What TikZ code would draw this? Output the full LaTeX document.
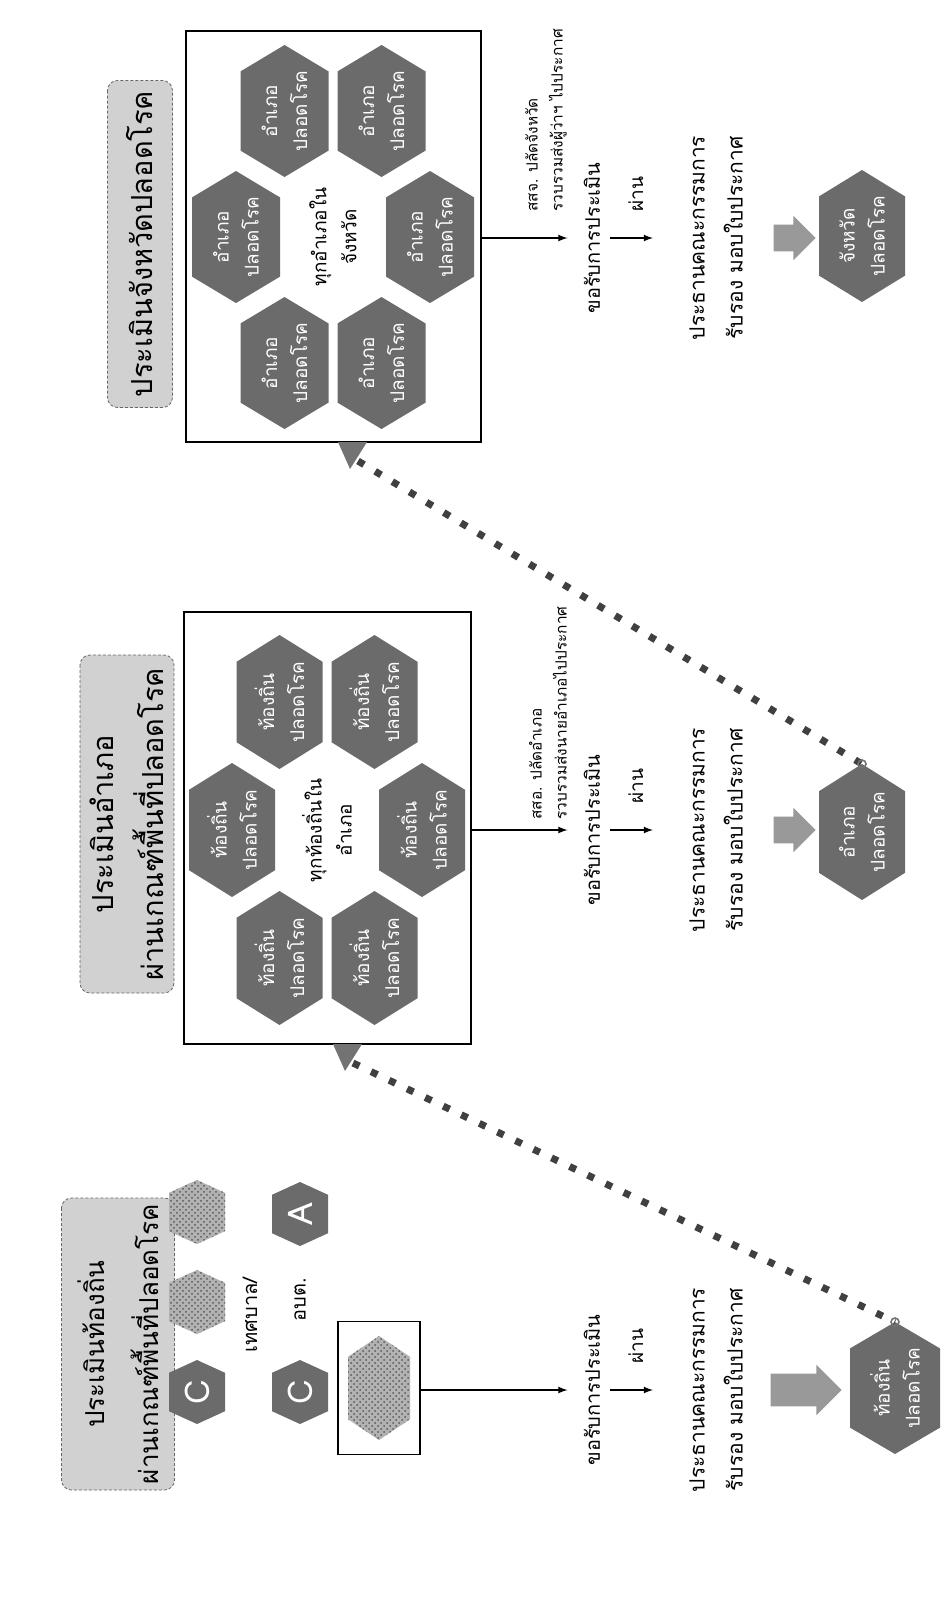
\documentclass[tikz,border=0pt]{standalone}
\usepackage{fontspec}
\setmainfont[Script=Thai]{Loma}
\usetikzlibrary{calc}
\usetikzlibrary{shapes.arrows}
\usetikzlibrary{patterns}

% หกเหลี่ยม: ชื่อ, จุดศูนย์กลาง, ครึ่งกว้าง, ครึ่งสูง, สี, ข้อความ
\newcommand{\hexcell}[6]{%
  \fill[#5] (#2) +(0,-#4) -- +(#3,-0.6*#4) -- +(#3,0.6*#4) -- +(0,#4) -- +(-#3,0.6*#4) -- +(-#3,-0.6*#4) -- cycle;
  \coordinate (#1-top) at ($(#2)+(0,-#4)$);
  \node[hextext] (#1) at (#2) {#6};
}

\begin{document}
\begin{tikzpicture}[x=0.5pt,y=-0.5pt,>=latex,
    hextext/.style={rotate=90,text=white,align=center,inner sep=0pt,font=\fontsize{9.5}{15}\selectfont},
    midtext/.style={rotate=90,align=center,inner sep=0pt,font=\fontsize{9.5}{15}\selectfont},
    darkhex/.style={fill=black!58},
    grainhex/.style={fill=black!30,postaction={pattern=crosshatch dots,pattern color=black!65}},
    titlebox/.style={rotate=90,draw=black!60,dash pattern=on 1.5pt off 1pt,rounded corners=5pt,fill=black!18,align=center,inner sep=0pt,font=\fontsize{14.5}{25}\selectfont},
    framebox/.style={draw,line width=0.9pt,inner sep=0pt},
    smalltext/.style={rotate=90,align=center,inner sep=0pt,font=\fontsize{10}{15}\selectfont},
    chairtext/.style={rotate=90,align=center,inner sep=0pt,font=\fontsize{10.5}{19}\selectfont},
    notetext/.style={rotate=90,align=left,inner sep=0pt,font=\fontsize{7.7}{12.5}\selectfont},
    passtext/.style={rotate=90,anchor=west,inner sep=13pt,font=\fontsize{9.5}{11}\selectfont},
    bigarrow/.style={single arrow,fill=black!40,inner sep=6.5pt,single arrow head extend=4.5pt,minimum width=22pt},
    flowline/.style={->,line width=0.6pt},
    dotline/.style={line width=3.5pt,dash pattern=on 3.5pt off 6.5pt,black!75}]
    \fill[white] (0,0) rectangle (947,1606);
    \useasboundingbox (0,0) rectangle (947,1606);

    % จังหวัด
    \node[titlebox,minimum width=163.5pt,minimum height=32.5pt] (provtitle) at (140,244) {ประเมินจังหวัดปลอดโรค};
    \node[framebox,minimum width=147.5pt,minimum height=205.5pt] (provbox) at (333.5,236.5) {};
    \hexcell{provA}{236,237}{44}{66}{darkhex}{อำเภอ\\ปลอดโรค}
    \hexcell{provB}{430,237}{44}{66}{darkhex}{อำเภอ\\ปลอดโรค}
    \hexcell{provC}{284.5,111}{44}{66}{darkhex}{อำเภอ\\ปลอดโรค}
    \hexcell{provD}{381.5,111}{44}{66}{darkhex}{อำเภอ\\ปลอดโรค}
    \hexcell{provE}{284.5,363}{44}{66}{darkhex}{อำเภอ\\ปลอดโรค}
    \hexcell{provF}{381.5,363}{44}{66}{darkhex}{อำเภอ\\ปลอดโรค}
    \node[midtext] (provmid) at (333,237) {ทุกอำเภอใน\\จังหวัด};
    \node[notetext,anchor=south west] (provnote) at (567,212) {สสจ. ปลัดจังหวัด\\รวบรวมส่งผู้ว่าฯ ไปประกาศ};
    \node[smalltext] (provreq) at (592,238) {ขอรับการประเมิน};
    \node[chairtext] (provchair) at (716,238) {ประธานคณะกรรมการ\\รับรอง มอบใบประกาศ};
    \node[bigarrow,minimum height=21pt] (provarrow) at (788,238) {};
    \hexcell{provfinal}{862,236}{43}{66}{darkhex}{จังหวัด\\ปลอดโรค}
    \draw[flowline,shorten >=8pt] (provbox.east |- provreq.north) -- (provreq.north);
    \draw[flowline,shorten <=5pt,shorten >=18pt] (provreq.south) -- (provchair.north) node[pos=0.4,passtext] {ผ่าน};

    % อำเภอ
    \node[titlebox,minimum width=169pt,minimum height=47pt] (disttitle) at (127,824) {ประเมินอำเภอ\\ผ่านเกณฑ์พื้นที่ปลอดโรค};
    \node[framebox,minimum width=143.5pt,minimum height=216pt] (distbox) at (327.5,828) {};
    \hexcell{distA}{232,830}{43}{67}{darkhex}{ท้องถิ่น\\ปลอดโรค}
    \hexcell{distB}{422,830}{43}{67}{darkhex}{ท้องถิ่น\\ปลอดโรค}
    \hexcell{distC}{279.5,702}{43}{67}{darkhex}{ท้องถิ่น\\ปลอดโรค}
    \hexcell{distD}{374.5,702}{43}{67}{darkhex}{ท้องถิ่น\\ปลอดโรค}
    \hexcell{distE}{279.5,958}{43}{67}{darkhex}{ท้องถิ่น\\ปลอดโรค}
    \hexcell{distF}{374.5,958}{43}{67}{darkhex}{ท้องถิ่น\\ปลอดโรค}
    \node[midtext] (distmid) at (327,830) {ทุกท้องถิ่นใน\\อำเภอ};
    \node[notetext,anchor=south west] (distnote) at (567,820) {สสอ. ปลัดอำเภอ\\รวบรวมส่งนายอำเภอไปประกาศ};
    \node[smalltext] (distreq) at (592,830) {ขอรับการประเมิน};
    \node[chairtext] (distchair) at (716,830) {ประธานคณะกรรมการ\\รับรอง มอบใบประกาศ};
    \node[bigarrow,minimum height=21pt] (distarrow) at (788,830) {};
    \hexcell{distfinal}{862,832}{43}{68}{darkhex}{อำเภอ\\ปลอดโรค}
    \draw[flowline,shorten >=8pt] (distbox.east |- distreq.north) -- (distreq.north);
    \draw[flowline,shorten <=5pt,shorten >=18pt] (distreq.south) -- (distchair.north) node[pos=0.4,passtext] {ผ่าน};

    % ท้องถิ่น
    \node[titlebox,minimum width=146pt,minimum height=56.5pt,font=\fontsize{13}{27}\selectfont] (loctitle) at (118,1344) {ประเมินท้องถิ่น\\ผ่านเกณฑ์พื้นที่ปลอดโรค};
    \hexcell{locT}{197,1212}{28}{32}{grainhex}{}
    \hexcell{locB}{197,1302}{28}{32}{grainhex}{}
    \hexcell{locC}{197,1392}{28}{32}{darkhex}{\fontsize{17}{17}\selectfont C}
    \hexcell{locA}{300,1214}{28}{32}{darkhex}{\fontsize{17}{17}\selectfont A}
    \hexcell{locCC}{300,1392}{28}{32}{darkhex}{\fontsize{17}{17}\selectfont C}
    \node[smalltext] (locmuni) at (250,1315) {เทศบาล/};
    \node[smalltext] (loctao) at (300,1300) {อบต.};
    \node[framebox,minimum width=41pt,minimum height=66.5pt] (locbox) at (379,1388) {};
    \hexcell{locpic}{379,1388}{31}{52}{grainhex}{}
    \node[smalltext] (locreq) at (592,1390) {ขอรับการประเมิน};
    \node[chairtext] (locchair) at (716,1390) {ประธานคณะกรรมการ\\รับรอง มอบใบประกาศ};
    \node[bigarrow,minimum height=35.5pt,minimum width=25pt,inner sep=8pt] (locarrow) at (798,1390) {};
    \hexcell{locfinal}{895,1388}{45}{66}{darkhex}{ท้องถิ่น\\ปลอดโรค}
    \draw[flowline,shorten >=8pt] (locbox.east |- locreq.north) -- (locreq.north);
    \draw[flowline,shorten <=5pt,shorten >=18pt] (locreq.south) -- (locchair.north) node[pos=0.4,passtext] {ผ่าน};

    % เส้นประเชื่อมระดับ
    \fill[black!55] (338,442) -- (367,442) -- (350,469) -- cycle;
    \coordinate (provtip) at (358,461);
    \draw[dotline] (provtip) -- (distfinal-top);
    \draw[black!55,line width=0.8pt] (distfinal-top) circle (2pt);
    \fill[black!55] (333,1044) -- (362,1044) -- (345,1071) -- cycle;
    \coordinate (disttip) at (353,1063);
    \draw[dotline] (disttip) -- (locfinal-top);
    \draw[black!55,line width=0.8pt] (locfinal-top) circle (2pt);
\end{tikzpicture}
\end{document}
